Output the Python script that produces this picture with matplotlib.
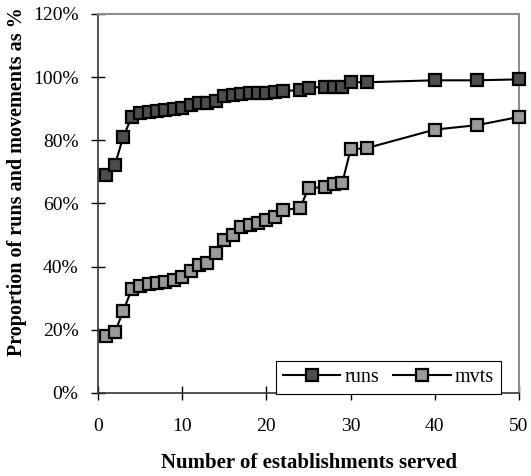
import matplotlib.pyplot as plt
from matplotlib.ticker import PercentFormatter

# x values shared by both series
establishments = [1, 2, 3, 4, 5, 6, 7, 8, 9, 10, 11, 12, 13, 14, 15, 16, 17, 18,
                  19, 20, 21, 22, 24, 25, 27, 28, 29, 30, 32, 40, 45, 50]
runs = [69.0, 72.2, 81.1, 87.4, 88.5, 89.0, 89.3, 89.6, 89.8, 90.3, 91.1, 91.7,
        91.9, 92.5, 94.0, 94.3, 94.8, 95.0, 95.1, 95.1, 95.2, 95.7, 95.8, 96.7,
        96.9, 96.9, 97.0, 98.4, 98.4, 99.0, 99.0, 99.3]
mvts = [18.0, 19.2, 26.0, 32.8, 33.8, 34.4, 34.8, 35.1, 35.8, 36.8, 38.7, 40.5,
        41.2, 44.2, 48.4, 50.0, 52.6, 53.3, 53.9, 54.7, 55.8, 57.9, 58.6, 64.8,
        65.3, 66.1, 66.4, 77.1, 77.6, 83.4, 84.8, 87.4]

x_ticks = [0, 10, 20, 30, 40, 50]
y_ticks = [0, 20, 40, 60, 80, 100, 120]

plt.rcParams['font.family'] = ['Liberation Serif', 'DejaVu Serif']

fig = plt.figure(figsize=(5.31, 4.76), dpi=100)
ax = fig.add_axes([0.1846, 0.1744, 0.7928, 0.7962])

style = dict(color='black', lw=1.5, marker='s', markersize=8.5,
             markeredgecolor='black', markeredgewidth=1.6, clip_on=False)
ax.plot(establishments, runs, markerfacecolor='#4d4d4d', label='runs', zorder=3, **style)
ax.plot(establishments, mvts, markerfacecolor='#9a9a9a', label='mvts', zorder=3, **style)

ax.set_xlim(0, 50)
ax.set_ylim(0, 120)
ax.set_xticks(x_ticks)
ax.set_yticks(y_ticks)
ax.yaxis.set_major_formatter(PercentFormatter(decimals=0))
ax.tick_params(direction='inout', length=10, width=1, labelsize=14, colors='black')
ax.tick_params(axis='y', pad=9)
ax.tick_params(axis='x', pad=13)

for side in ['left', 'bottom']:
    ax.spines[side].set_color('#333333')
    ax.spines[side].set_linewidth(1.2)
for side in ['top', 'right']:
    ax.spines[side].set_color('#8c8c8c')
    ax.spines[side].set_linewidth(1.5)

ax.set_xlabel('Number of establishments served', fontsize=15, fontweight='bold', labelpad=13)
ax.set_ylabel('Proportion of runs and movements as %', fontsize=14.5, fontweight='bold')
ax.yaxis.set_label_coords(-0.169, 0.557)

leg = ax.legend(loc='lower right', bbox_to_anchor=(0.957, -0.003), borderaxespad=0,
                ncol=2, fontsize=14.5, handlelength=2.85, handletextpad=0.2,
                columnspacing=0.7, borderpad=0.35, fancybox=False, framealpha=1)
leg.get_frame().set_edgecolor('black')
leg.get_frame().set_linewidth(0.8)

fig.savefig('out.png', dpi=100)
